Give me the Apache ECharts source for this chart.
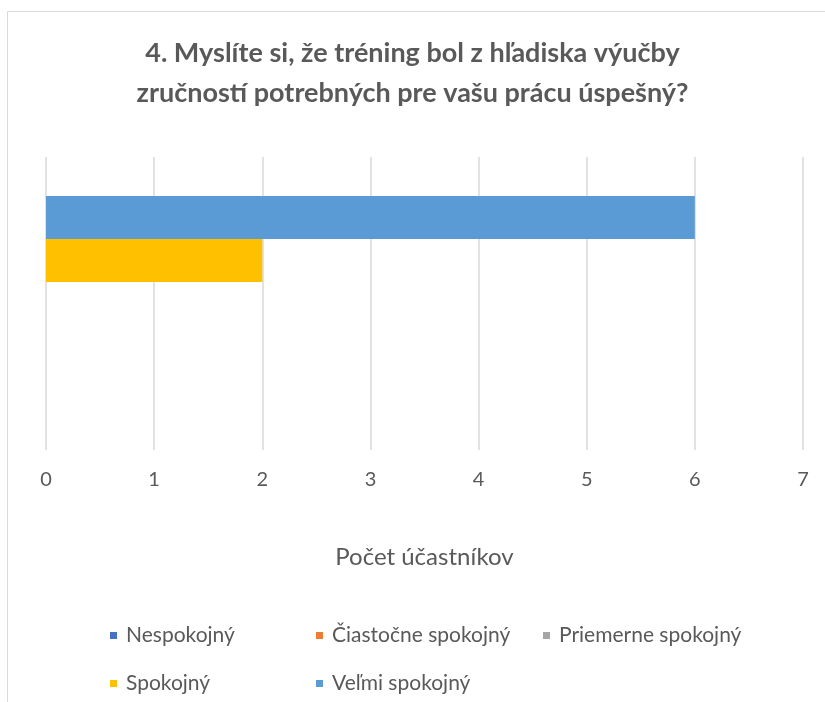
<!DOCTYPE html>
<html><head><meta charset="utf-8">
<script src="https://cdn.jsdelivr.net/npm/echarts@6/dist/echarts.min.js"></script>
<style>html,body{margin:0;padding:0;background:#fff}#c{width:825px;height:702px}</style>
</head><body><div id="c"></div>
<script>
const titleText = '4. Myslíte si, že tréning bol z hľadiska výučby\nzručností potrebných pre vašu prácu úspešný?';
const categories = [''];
const seriesNames = ['Nespokojný', 'Čiastočne spokojný', 'Priemerne spokojný', 'Spokojný', 'Veľmi spokojný'];
const seriesValues = [[0], [0], [0], [2], [6]];
const seriesColors = ['#4472C4', '#ED7D31', '#A5A5A5', '#FFC000', '#5B9BD5'];
const xTicks = [0, 7, 1]; // min, max, interval
const axisTitle = 'Počet účastníkov';

const FONT = 'Lato';
const legendPos = [[105, 620], [311, 620], [538, 620], [105, 668], [311, 668]];

const chart = echarts.init(document.getElementById('c'), null, {renderer: 'canvas'});
// ECharts stacks the first series at the top of a horizontal band; Excel puts it at the bottom
const order = seriesNames.map((n, i) => i).reverse();
chart.setOption({
  animation: false,
  backgroundColor: '#fff',
  graphic: [{type: 'rect', shape: {x: 7.5, y: 11.5, width: 1000, height: 1000},
    style: {fill: 'none', stroke: '#D9D9D9', lineWidth: 1}, silent: true}],
  title: {text: titleText, left: 'center', top: 28,
    textStyle: {fontFamily: FONT, fontWeight: 'bold', fontSize: 27, color: '#595959', lineHeight: 40}},
  legend: seriesNames.map((n, i) => ({
    data: [n], left: legendPos[i][0], top: legendPos[i][1], itemWidth: 7, itemHeight: 7, icon: 'rect',
    itemGap: 4, textStyle: {fontFamily: FONT, fontSize: 21, color: '#595959', padding: [0, 0, 0, 4]}
  })),
  grid: {left: 46, right: 22, top: 157, bottom: 252, containLabel: false},
  xAxis: {type: 'value', min: xTicks[0], max: xTicks[1], interval: xTicks[2],
    name: axisTitle, nameLocation: 'middle', nameGap: 95,
    nameTextStyle: {fontFamily: FONT, fontSize: 24, color: '#595959'},
    axisLine: {show: false}, axisTick: {show: false},
    axisLabel: {fontFamily: FONT, fontSize: 20, color: '#595959', margin: 20},
    splitLine: {lineStyle: {color: '#D9D9D9', width: 1.5}}},
  yAxis: {type: 'category', data: categories, axisLine: {show: false}, axisTick: {show: false},
    axisLabel: {show: false}},
  series: order.map(i => ({
    name: seriesNames[i], type: 'bar', data: seriesValues[i], barGap: '0%', barCategoryGap: '26.6%',
    itemStyle: {color: seriesColors[i]}
  }))
});
</script></body></html>
